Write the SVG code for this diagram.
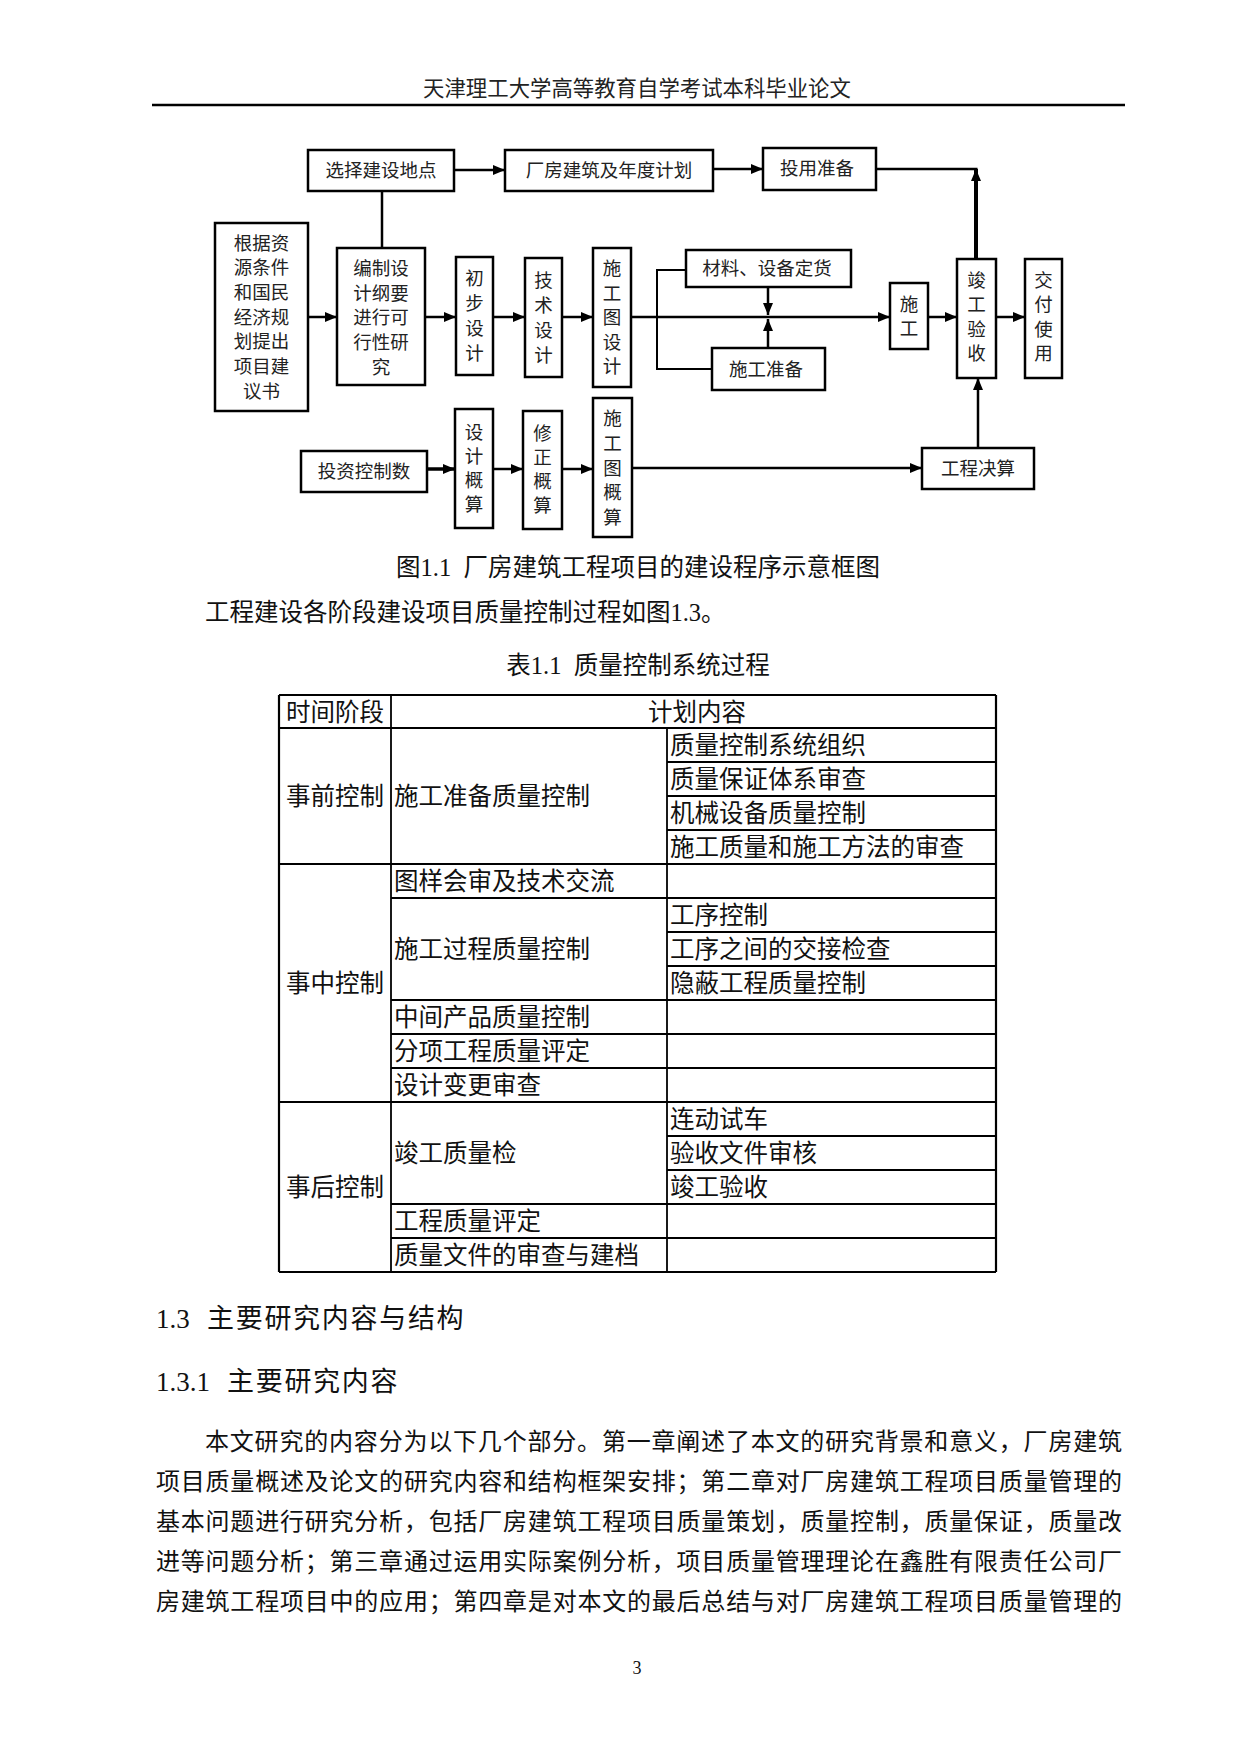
<svg xmlns="http://www.w3.org/2000/svg" width="1241" height="1755" viewBox="0 0 1241 1755">
<style>
.box{fill:#fff;stroke:#000;stroke-width:2.5}
.ft{font-family:"Liberation Serif","Noto Sans CJK SC",sans-serif;font-size:18.5px;fill:#222;text-anchor:middle}
.ln{stroke:#000;stroke-width:2.5;fill:none}
.thin{stroke:#000;stroke-width:2;fill:none}
.tb{stroke:#000;stroke-width:1.8}
.tt{font-family:"Liberation Serif","Noto Sans CJK SC",sans-serif;font-size:24.5px;fill:#111}
.body{font-family:"Liberation Serif","Noto Sans CJK SC",sans-serif;font-size:24.5px;fill:#111}
.hd{font-family:"Liberation Serif","Noto Sans CJK SC",sans-serif;font-size:27px;fill:#111}
.hdc{font-family:"Noto Sans CJK SC",sans-serif;font-size:27px;letter-spacing:1.7px}
.ptxt{font-family:"Liberation Serif","Noto Sans CJK SC",sans-serif;font-size:24px;fill:#111}
</style>
<defs>
<marker id="arr" markerUnits="userSpaceOnUse" markerWidth="12" markerHeight="10" viewBox="0 0 12 10" refX="12" refY="5" orient="auto">
<path d="M0,0 L12,5 L0,10 Z" fill="#000"/>
</marker>
</defs>
<rect width="1241" height="1755" fill="#fff"/>

<!-- page header -->
<text x="637" y="96" text-anchor="middle" style="font-family:'Liberation Serif','Noto Sans CJK SC',sans-serif;font-size:21.4px;fill:#222">天津理工大学高等教育自学考试本科毕业论文</text>
<line x1="152" y1="105" x2="1125" y2="105" stroke="#000" stroke-width="2.5"/>

<!-- connectors -->
<g id="connectors">
<line class="ln" x1="454" y1="170" x2="505" y2="170" marker-end="url(#arr)"/>
<line class="ln" x1="713" y1="169" x2="763" y2="169" marker-end="url(#arr)"/>
<line class="ln" x1="876" y1="169" x2="977.5" y2="169"/>
<line x1="976" y1="259" x2="976" y2="169" stroke="#000" stroke-width="4" marker-end="url(#arr)"/>
<line class="ln" x1="382" y1="191" x2="382" y2="248"/>
<line class="ln" x1="308" y1="317" x2="337" y2="317" marker-end="url(#arr)"/>
<line class="ln" x1="425" y1="317" x2="456" y2="317" marker-end="url(#arr)"/>
<line class="ln" x1="493" y1="317" x2="525" y2="317" marker-end="url(#arr)"/>
<line class="ln" x1="562" y1="317" x2="593" y2="317" marker-end="url(#arr)"/>
<line class="ln" x1="631" y1="317" x2="890" y2="317" marker-end="url(#arr)"/>
<polyline class="thin" points="686,270 657,270 657,369 712,369"/>
<line class="ln" x1="768" y1="287" x2="768" y2="315" marker-end="url(#arr)"/>
<line class="ln" x1="768" y1="348" x2="768" y2="319" marker-end="url(#arr)"/>
<line class="ln" x1="928" y1="317" x2="957" y2="317" marker-end="url(#arr)"/>
<line class="ln" x1="996" y1="317" x2="1025" y2="317" marker-end="url(#arr)"/>
<line x1="427" y1="469" x2="455" y2="469" stroke="#000" stroke-width="3.5" marker-end="url(#arr)"/>
<line class="ln" x1="493" y1="469" x2="523" y2="469" marker-end="url(#arr)"/>
<line class="ln" x1="562" y1="469" x2="593" y2="469" marker-end="url(#arr)"/>
<line class="ln" x1="632" y1="468" x2="922" y2="468" marker-end="url(#arr)"/>
<line class="ln" x1="978" y1="448" x2="978" y2="378" marker-end="url(#arr)"/>
</g>

<!-- nodes -->
<g id="n-xuanze"><rect class="box" x="308" y="150" width="146" height="41"/><text class="ft" x="381" y="177">选择建设地点</text></g>
<g id="n-changfang"><rect class="box" x="505" y="150" width="208" height="41"/><text class="ft" x="609" y="177">厂房建筑及年度计划</text></g>
<g id="n-touyong"><rect class="box" x="763" y="148" width="113" height="42"/><text class="ft" x="817" y="175">投用准备</text></g>
<g id="n-genju"><rect class="box" x="215" y="223" width="93" height="188"/>
<text class="ft"><tspan x="261.5" y="249.6">根据资</tspan><tspan x="261.5" y="274.3">源条件</tspan><tspan x="261.5" y="299">和国民</tspan><tspan x="261.5" y="323.7">经济规</tspan><tspan x="261.5" y="348.4">划提出</tspan><tspan x="261.5" y="373.1">项目建</tspan><tspan x="261.5" y="397.8">议书</tspan></text></g>
<g id="n-bianzhi"><rect class="box" x="337" y="248" width="88" height="137"/>
<text class="ft"><tspan x="381" y="274.8">编制设</tspan><tspan x="381" y="299.5">计纲要</tspan><tspan x="381" y="324.2">进行可</tspan><tspan x="381" y="348.9">行性研</tspan><tspan x="381" y="373.6">究</tspan></text></g>
<g id="n-chubu"><rect class="box" x="456" y="257" width="37" height="118"/>
<text class="ft"><tspan x="474.5" y="285.2">初</tspan><tspan x="474.5" y="310.2">步</tspan><tspan x="474.5" y="335.2">设</tspan><tspan x="474.5" y="360.2">计</tspan></text></g>
<g id="n-jishu"><rect class="box" x="525" y="258" width="37" height="119"/>
<text class="ft"><tspan x="543.5" y="286.7">技</tspan><tspan x="543.5" y="311.7">术</tspan><tspan x="543.5" y="336.7">设</tspan><tspan x="543.5" y="361.7">计</tspan></text></g>
<g id="n-shigongtu"><rect class="box" x="593" y="248" width="38" height="139"/>
<text class="ft"><tspan x="612" y="275.2">施</tspan><tspan x="612" y="299.7">工</tspan><tspan x="612" y="324.2">图</tspan><tspan x="612" y="348.7">设</tspan><tspan x="612" y="373.2">计</tspan></text></g>
<g id="n-cailiao"><rect class="box" x="686" y="250" width="165" height="37"/><text class="ft" x="767" y="275">材料、设备定货</text></g>
<g id="n-shigongzb"><rect class="box" x="712" y="348" width="113" height="42"/><text class="ft" x="766" y="375.5">施工准备</text></g>
<g id="n-shigong"><rect class="box" x="890" y="283" width="38" height="66"/>
<text class="ft"><tspan x="909" y="311.2">施</tspan><tspan x="909" y="335.2">工</tspan></text></g>
<g id="n-jungong"><rect class="box" x="957" y="259" width="39" height="119"/>
<text class="ft"><tspan x="976.5" y="286.5">竣</tspan><tspan x="976.5" y="311">工</tspan><tspan x="976.5" y="335.5">验</tspan><tspan x="976.5" y="360">收</tspan></text></g>
<g id="n-jiaofu"><rect class="box" x="1025" y="259" width="37" height="119"/>
<text class="ft"><tspan x="1043.5" y="286.5">交</tspan><tspan x="1043.5" y="311">付</tspan><tspan x="1043.5" y="335.5">使</tspan><tspan x="1043.5" y="360">用</tspan></text></g>
<g id="n-touzi"><rect class="box" x="301" y="451" width="126" height="41"/><text class="ft" x="364" y="478">投资控制数</text></g>
<g id="n-sheji"><rect class="box" x="455" y="409" width="38" height="119"/>
<text class="ft"><tspan x="474" y="438.7">设</tspan><tspan x="474" y="462.7">计</tspan><tspan x="474" y="486.7">概</tspan><tspan x="474" y="510.7">算</tspan></text></g>
<g id="n-xiuzheng"><rect class="box" x="523" y="411" width="39" height="118"/>
<text class="ft"><tspan x="542.5" y="439.7">修</tspan><tspan x="542.5" y="463.7">正</tspan><tspan x="542.5" y="487.7">概</tspan><tspan x="542.5" y="511.7">算</tspan></text></g>
<g id="n-shigongtugs"><rect class="box" x="593" y="398" width="39" height="139"/>
<text class="ft"><tspan x="612.5" y="425.3">施</tspan><tspan x="612.5" y="450">工</tspan><tspan x="612.5" y="474.7">图</tspan><tspan x="612.5" y="499.4">概</tspan><tspan x="612.5" y="524.1">算</tspan></text></g>
<g id="n-juesuan"><rect class="box" x="922" y="448" width="112" height="41"/><text class="ft" x="978" y="475">工程决算</text></g>

<!-- captions -->
<text class="body" x="638" y="576" text-anchor="middle" style="white-space:pre">图1.1  厂房建筑工程项目的建设程序示意框图</text>
<text class="body" x="205" y="621">工程建设各阶段建设项目质量控制过程如图1.3。</text>
<text class="body" x="638" y="674" text-anchor="middle" style="white-space:pre">表1.1  质量控制系统过程</text>

<!-- table -->
<g id="table">
<g class="tb">
<line x1="279" y1="695" x2="996" y2="695"/>
<line x1="279" y1="728" x2="996" y2="728"/>
<line x1="667" y1="762" x2="996" y2="762"/>
<line x1="667" y1="796" x2="996" y2="796"/>
<line x1="667" y1="830" x2="996" y2="830"/>
<line x1="279" y1="864" x2="996" y2="864"/>
<line x1="391" y1="898" x2="996" y2="898"/>
<line x1="667" y1="932" x2="996" y2="932"/>
<line x1="667" y1="966" x2="996" y2="966"/>
<line x1="391" y1="1000" x2="996" y2="1000"/>
<line x1="391" y1="1034" x2="996" y2="1034"/>
<line x1="391" y1="1068" x2="996" y2="1068"/>
<line x1="279" y1="1102" x2="996" y2="1102"/>
<line x1="667" y1="1136" x2="996" y2="1136"/>
<line x1="667" y1="1170" x2="996" y2="1170"/>
<line x1="391" y1="1204" x2="996" y2="1204"/>
<line x1="391" y1="1238" x2="996" y2="1238"/>
<line x1="279" y1="1272" x2="996" y2="1272" stroke-width="2.2"/>
<line x1="279" y1="695" x2="279" y2="1272" stroke-width="2.2"/>
<line x1="391" y1="695" x2="391" y2="1272"/>
<line x1="667" y1="728" x2="667" y2="1272"/>
<line x1="996" y1="695" x2="996" y2="1272" stroke-width="2.2"/>
</g>
<text class="tt" x="335" y="720.5" text-anchor="middle">时间阶段</text>
<text class="tt" x="697" y="720.5" text-anchor="middle">计划内容</text>
<text class="tt" x="335" y="805.3" text-anchor="middle">事前控制</text>
<text class="tt" x="394" y="805.3">施工准备质量控制</text>
<text class="tt" x="670" y="754.3">质量控制系统组织</text>
<text class="tt" x="670" y="788.3">质量保证体系审查</text>
<text class="tt" x="670" y="822.3">机械设备质量控制</text>
<text class="tt" x="670" y="856.3">施工质量和施工方法的审查</text>
<text class="tt" x="394" y="890.3">图样会审及技术交流</text>
<text class="tt" x="335" y="992.3" text-anchor="middle">事中控制</text>
<text class="tt" x="394" y="958.3">施工过程质量控制</text>
<text class="tt" x="670" y="924.3">工序控制</text>
<text class="tt" x="670" y="958.3">工序之间的交接检查</text>
<text class="tt" x="670" y="992.3">隐蔽工程质量控制</text>
<text class="tt" x="394" y="1026.3">中间产品质量控制</text>
<text class="tt" x="394" y="1060.3">分项工程质量评定</text>
<text class="tt" x="394" y="1094.3">设计变更审查</text>
<text class="tt" x="335" y="1196.3" text-anchor="middle">事后控制</text>
<text class="tt" x="394" y="1162.3">竣工质量检</text>
<text class="tt" x="670" y="1128.3">连动试车</text>
<text class="tt" x="670" y="1162.3">验收文件审核</text>
<text class="tt" x="670" y="1196.3">竣工验收</text>
<text class="tt" x="394" y="1230.3">工程质量评定</text>
<text class="tt" x="394" y="1264.3">质量文件的审查与建档</text>
</g>

<!-- headings -->
<text class="hd" x="156" y="1328">1.3<tspan class="hdc" x="207">主要研究内容与结构</tspan></text>
<text class="hd" x="156" y="1391">1.3.1<tspan class="hdc" x="227">主要研究内容</tspan></text>

<!-- paragraph -->
<text class="ptxt" x="205" y="1450" textLength="917" lengthAdjust="spacing">本文研究的内容分为以下几个部分。第一章阐述了本文的研究背景和意义，厂房建筑</text>
<text class="ptxt" x="156" y="1490" textLength="966" lengthAdjust="spacing">项目质量概述及论文的研究内容和结构框架安排；第二章对厂房建筑工程项目质量管理的</text>
<text class="ptxt" x="156" y="1530" textLength="966" lengthAdjust="spacing">基本问题进行研究分析，包括厂房建筑工程项目质量策划，质量控制，质量保证，质量改</text>
<text class="ptxt" x="156" y="1570" textLength="966" lengthAdjust="spacing">进等问题分析；第三章通过运用实际案例分析，项目质量管理理论在鑫胜有限责任公司厂</text>
<text class="ptxt" x="156" y="1610" textLength="966" lengthAdjust="spacing">房建筑工程项目中的应用；第四章是对本文的最后总结与对厂房建筑工程项目质量管理的</text>

<text x="637" y="1674" text-anchor="middle" style="font-family:'Liberation Serif',serif;font-size:18px;fill:#111">3</text>
</svg>
